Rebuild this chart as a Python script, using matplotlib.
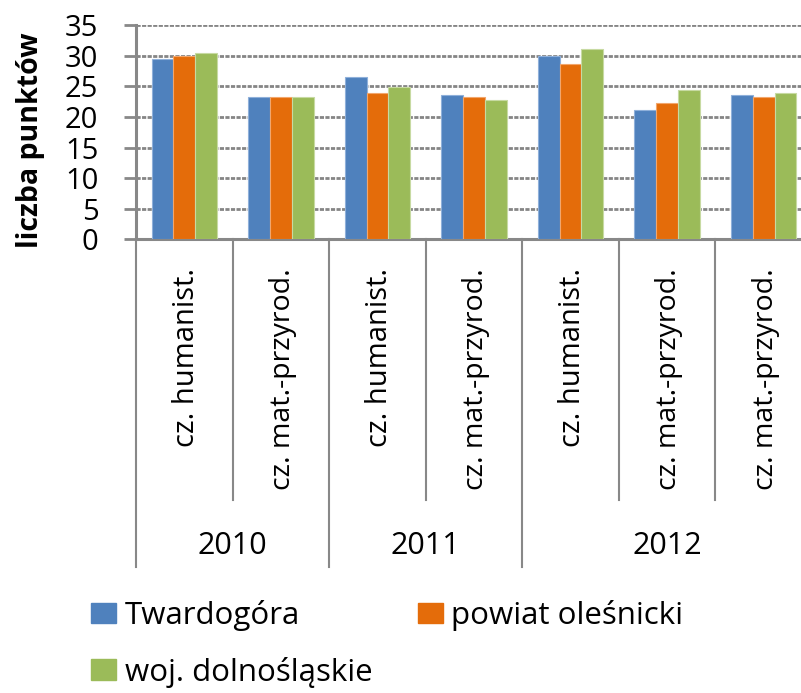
import matplotlib
matplotlib.use("Agg")
import matplotlib.pyplot as plt
import matplotlib.transforms as mtransforms
from matplotlib.patches import Patch
import numpy as np

# ---- data ----
years = ["2010", "2011", "2012"]
year_sizes = [2, 2, 3]
categories = ["cz. humanist.", "cz. mat.-przyrod.",
              "cz. humanist.", "cz. mat.-przyrod.",
              "cz. humanist.", "cz. mat.-przyrod.", "cz. mat.-przyrod."]
series_names = ["Twardogóra", "powiat oleśnicki", "woj. dolnośląskie"]
twardogora = [29.5, 23.2, 26.5, 23.6, 29.9, 21.1, 23.6]
powiat = [29.9, 23.2, 24.0, 23.2, 28.7, 22.3, 23.2]
wojewodztwo = [30.4, 23.2, 24.9, 22.8, 31.2, 24.4, 24.0]
yticks = [0, 5, 10, 15, 20, 25, 30, 35]

colors = ["#4F81BD", "#E46C0A", "#9BBB59"]
edges = ["#8FB0DA", "#F2A66C", "#C7DAA2"]
FONT = "Open Sans"
plt.rcParams["font.family"] = [FONT, "DejaVu Sans"]
plt.rcParams["lines.scale_dashes"] = False

W, H = 801, 693
fig = plt.figure(figsize=(W / 100, H / 100), dpi=100)
ax_left, ax_right = 136, 812
ax_top, ax_bot = 25.3, 239.3
ax = fig.add_axes([ax_left / W, 1 - ax_bot / H, (ax_right - ax_left) / W, (ax_bot - ax_top) / H])

n = len(categories)
x = np.arange(n)
bw = 0.226
for k, vals in enumerate([twardogora, powiat, wojewodztwo]):
    ax.bar(x + (k - 1) * bw, vals, width=bw, color=colors[k], edgecolor=edges[k],
           linewidth=0.8, label=series_names[k], zorder=3)

ax.set_xlim(-0.5, n - 0.5)
ax.set_ylim(0, 35)
ax.set_yticks(yticks)
ax.set_yticklabels([str(t) for t in yticks], fontsize=21)
ax.tick_params(axis="y", direction="out", length=9, width=2, color="#888888", pad=18)
ax.set_xticks([])
ax.set_axisbelow(True)
ax.yaxis.grid(True, color="#858585", linewidth=2, linestyle=(0, (3, 1)))
for s in ["top", "right"]:
    ax.spines[s].set_visible(False)
for s in ["left", "bottom"]:
    ax.spines[s].set_color("#888888")
    ax.spines[s].set_linewidth(2.2)

trans = mtransforms.blended_transform_factory(ax.transData, ax.transAxes)
ax_h = ax_bot - ax_top
def px2ax(py):
    return -(py - ax_bot) / ax_h

inner_end = px2ax(500)
year_end = px2ax(567)
# separators
bounds = np.cumsum([0] + year_sizes) - 0.5
for xb in np.arange(-0.5, n + 0.5, 1.0):
    yend = year_end if np.any(np.isclose(bounds, xb)) else inner_end
    ax.plot([xb, xb], [0, yend], transform=trans, color="#888888", lw=1.5, clip_on=False)

# category labels
for i, c in enumerate(categories):
    fs = 21 if "humanist" in c else 20.5
    ax.text(i + 0.02, px2ax(268), c, transform=trans, rotation=90, ha="center", va="top",
            fontsize=fs)

# year labels
for j, yname in enumerate(years):
    center = (bounds[j] + bounds[j + 1]) / 2
    ax.text(center, px2ax(546), yname, transform=trans, ha="center", va="center", fontsize=22)

fig.text(31 / W, 1 - 140 / H, "liczba punktów", rotation=90, ha="center", va="center",
         fontsize=20.5, fontweight="bold")

handles = [Patch(facecolor=colors[k], edgecolor=colors[k]) for k in range(3)]
order = [0, 2, 1]
fs_leg = 22.5
fig.legend([handles[i] for i in order], [series_names[i] for i in order],
           loc="upper left", bbox_to_anchor=(91 / W, 1 - 600 / H), ncol=2, frameon=False,
           fontsize=fs_leg, borderpad=0, borderaxespad=0, handlelength=0.8, handleheight=0.64,
           handletextpad=0.28, columnspacing=1.45, labelspacing=0.82)

fig.savefig("out.png", dpi=100)
